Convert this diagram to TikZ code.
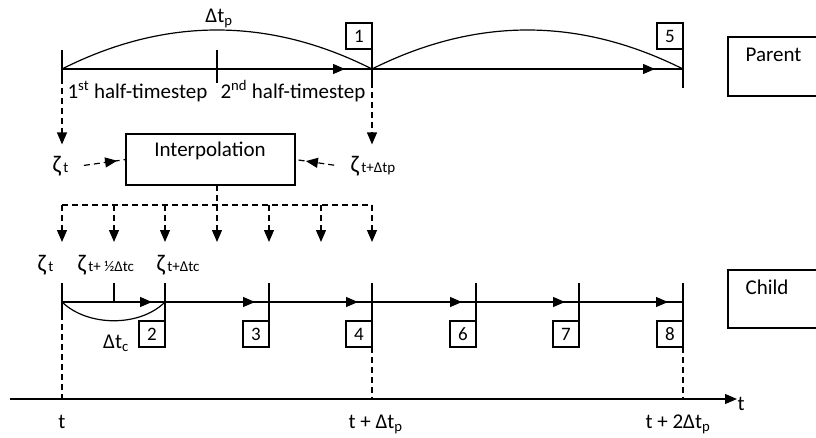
\documentclass[tikz,border=0pt]{standalone}
\usepackage{fontspec}
\setmainfont{Carlito}
\usetikzlibrary{arrows.meta,decorations.markings}
\newcommand{\zsub}[1]{{\fontsize{15}{15}\selectfont\,#1}}
\newcommand{\zglyph}{{\fontsize{24}{24}\selectfont ζ}}
\begin{document}
\begin{tikzpicture}[x=1pt,y=-1pt,line width=1.2pt,
  >={Triangle[length=12pt,width=10pt]},
  every node/.style={font=\fontsize{21}{25}\selectfont,inner sep=0pt},
  midarrow/.style={postaction={decorate,decoration={markings,mark=at position #1 with {\arrow{>}}}}},
  numbox/.style={draw,minimum width=26pt,minimum height=26pt,outer sep=0pt,anchor=north east,font=\fontsize{19}{22}\selectfont},
  zlab/.style={anchor=base west,text height=14pt,text depth=5pt},
  dsh/.style={dash pattern=on 6pt off 4pt}]
\useasboundingbox (0,0) rectangle (816,437);
% ---------------- parent timeline
\coordinate (P0) at (62,69);
\coordinate (Pm) at (217,69);
\coordinate (P1) at (372,69);
\coordinate (P2) at (683,69);
\node[numbox] (b1) at (372,23) {1};
\node[numbox] (b5) at (683,23) {5};
\draw[midarrow=-27pt] (P0) -- (P1);
\draw[midarrow=-28pt] (P1) -- (P2);
\draw (P0) .. controls (165,17) and (269,17) .. (P1);
\draw (P1) .. controls (476,17) and (579,17) .. (P2);
\draw (62,50) -- (62,84);
\draw (217,50) -- (217,83);
\draw (b1.north east) -- (372,88);
\draw (b5.north east) -- (683,88);
\node[anchor=base] (dtp) at (219,22) {Δt\textsubscript{p}};
\node[anchor=base west] (h1) at (67,98) {1\textsuperscript{st} half-timestep};
\node[anchor=base west] (h2) at (220,98) {2\textsuperscript{nd} half-timestep};
% ---------------- parent box
\node[draw,anchor=north west,minimum width=120pt,minimum height=59pt,outer sep=0pt] (parent) at (728,37) {};
\node[anchor=base west] (parentT) at (745,61) {Parent};
% ---------------- interpolation
\node[zlab] (zt) at (52,172) {\zglyph\zsub{t}};
\node[zlab] (ztp) at (350,172) {\zglyph\zsub{t+Δtp}};
\node[draw,minimum width=169pt,minimum height=51pt,outer sep=0pt] (interp) at (210.5,159.5) {};
\node[anchor=base] (interpT) at (210,156) {Interpolation};
\draw[dsh,->,shorten >=13pt] (62,88) -- (zt.north -| P0);
\draw[dsh,->,shorten >=13pt] (372,92) -- (ztp.north -| P1);
\draw[dsh,shorten <=15pt,midarrow=-9pt] (zt.east) -- (interp.west);
\draw[dsh,shorten <=16pt,midarrow=-11pt] (ztp.west) -- (interp.east);
\coordinate (bus) at (217,205);
\draw[dsh] (interp.south -| Pm) -- (bus);
\draw[dsh] (62,205) -- (372,205);
\foreach \x/\n in {62/a,114/b,165/c,217/d,269/e,321/f,372/g}{
  \coordinate (top\n) at (\x,205);
  \coordinate (tip\n) at (\x,242);
  \draw[dsh,->] (top\n) -- (tip\n);
}
% ---------------- child labels
\node[zlab] (zc0) at (37,271) {\zglyph\zsub{t}};
\node[zlab] (zch) at (77,271) {\zglyph\zsub{t+ ½Δtc}};
\node[zlab] (zc1) at (156,271) {\zglyph\zsub{t+Δtc}};
% ---------------- child timeline
\coordinate (C0) at (62,302);
\coordinate (Ch) at (114,302);
\coordinate (C1) at (165,302);
\coordinate (C2) at (269,302);
\coordinate (C3) at (372,302);
\coordinate (C4) at (476,302);
\coordinate (C5) at (579,302);
\coordinate (C6) at (683,302);
\draw[midarrow=-13pt] (C0) -- (C1);
\draw[midarrow=-14pt] (C1) -- (C2);
\draw[midarrow=-14pt] (C2) -- (C3);
\draw[midarrow=-14pt] (C3) -- (C4);
\draw[midarrow=-14pt] (C4) -- (C5);
\draw[midarrow=-15pt] (C5) -- (C6);
\draw (C0) .. controls (88,327) and (140,327) .. (C1);
\node[numbox] (b2) at (165,321) {2};
\node[numbox] (b3) at (269,321) {3};
\node[numbox] (b4) at (372,321) {4};
\node[numbox] (b6) at (476,321) {6};
\node[numbox] (b7) at (579,321) {7};
\node[numbox] (b8) at (683,321) {8};
\draw (62,283) -- (62,320);
\draw (114,283) -- (Ch);
\foreach \x/\b in {165/b2,269/b3,372/b4,476/b6,579/b7,683/b8}{
  \draw (\x,283) -- (\b.south east);
}
\node[anchor=base] (dtc) at (116,348) {Δt\textsubscript{c}};
% ---------------- child box
\node[draw,anchor=north west,minimum width=120pt,minimum height=58pt,outer sep=0pt] (child) at (728,270) {};
\node[anchor=base west] (childT) at (745,294) {Child};
% ---------------- time axis
\coordinate (A0) at (10,399);
\coordinate (X0) at (62,399);
\coordinate (X1) at (372,399);
\coordinate (X2) at (683,399);
\node[anchor=west] (tax) at (737,404) {t};
\draw[->] (A0) -- (tax.west |- A0);
\draw[dsh] (62,324) -- (X0);
\draw[dsh] (b4.south east) -- (X1);
\draw[dsh] (b8.south east) -- (X2);
\node[anchor=base] (l0) at (62,428) {t};
\node[anchor=base west] (l1) at (348,428) {t + Δt\textsubscript{p}};
\node[anchor=base west] (l2) at (645,428) {t + 2Δt\textsubscript{p}};
\end{tikzpicture}
\end{document}
